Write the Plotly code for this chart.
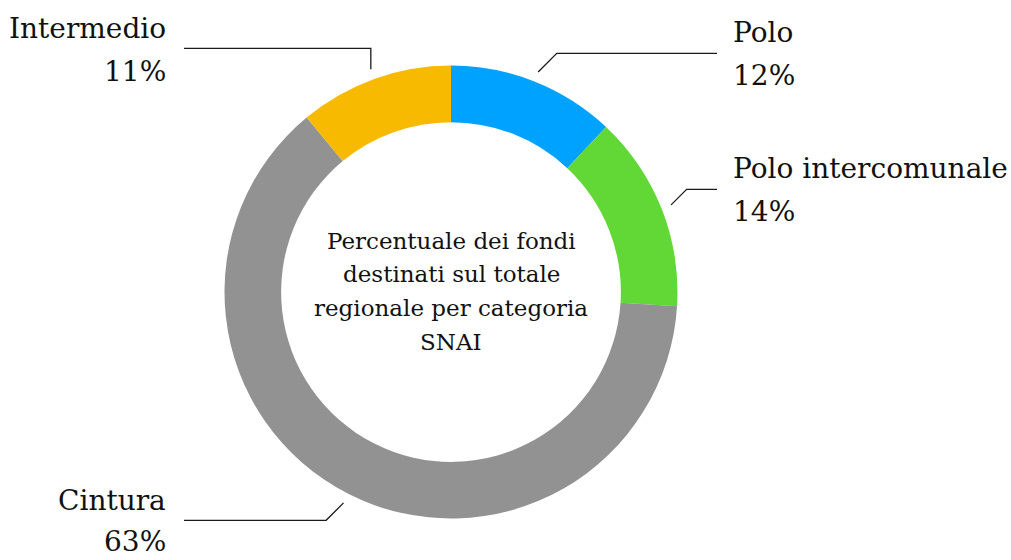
import math
import plotly.graph_objects as go

# ---- data ----
categories = ["Polo", "Polo intercomunale", "Cintura", "Intermedio"]
values = [12, 14, 63, 11]
colors = ["#00A2FF", "#61D836", "#929292", "#F8BA00"]
center_lines = ["Percentuale dei fondi", "destinati sul totale",
                "regionale per categoria", "SNAI"]

# ---- layout constants (pixels) ----
W, H = 1011, 560
CX, CY, R = 451, 292, 226.5
FONT = "DejaVu Serif"
LBL_SIZE = 28
CTR_SIZE = 23

# label placement: side, line y (px), name baseline, pct baseline, elbow style
label_side = ["right", "right", "left", "left"]
line_y = [53.3, 189.3, 520.3, 48.3]
name_base = [44, 180, 511.7, 40]
pct_base = [87, 222.7, 553, 83]
elbow = ["diag", "diag", "diag", "vert"]
RIGHT_LINE_END, RIGHT_TEXT_X = 717, 731
LEFT_LINE_END, LEFT_TEXT_X = 184, 168


def px(x):
    return x / W


def py(y):
    return 1 - y / H


fig = go.Figure(go.Pie(
    labels=categories, values=values, hole=0.75, sort=False,
    direction="clockwise", rotation=0,
    marker=dict(colors=colors, line=dict(width=0)),
    textinfo="none", hoverinfo="label+percent", showlegend=False,
    domain=dict(x=[px(CX - R), px(CX + R)], y=[py(CY + R), py(CY - R)]),
))

shapes = []
annotations = []
total = sum(values)
cum = 0
for i, v in enumerate(values):
    mid = (cum + v / 2) / total * 2 * math.pi
    cum += v
    rr = R * 1.045
    sx = CX + rr * math.sin(mid)
    sy = CY - rr * math.cos(mid)
    ly = line_y[i]
    dy = abs(sy - ly)
    if elbow[i] == "vert":
        ex = sx
    else:
        ex = sx + dy if label_side[i] == "right" else sx - dy
    endx = RIGHT_LINE_END if label_side[i] == "right" else LEFT_LINE_END
    path = f"M {px(sx)},{py(sy)} L {px(ex)},{py(ly)} L {px(endx)},{py(ly)}"
    shapes.append(dict(type="path", path=path, xref="paper", yref="paper",
                       line=dict(color="#1a1a1a", width=1.3)))
    tx = RIGHT_TEXT_X if label_side[i] == "right" else LEFT_TEXT_X
    xa = "left" if label_side[i] == "right" else "right"
    for txt, base in ((categories[i], name_base[i]),
                      (f"{round(v / total * 100)}%", pct_base[i])):
        annotations.append(dict(
            text=txt, x=px(tx), y=py(base + LBL_SIZE * 0.25), xref="paper", yref="paper",
            xanchor=xa, yanchor="bottom", showarrow=False,
            font=dict(family=FONT, size=LBL_SIZE, color="#111111")))

center_base = [250, 283, 317, 351]
for txt, base in zip(center_lines, center_base):
    annotations.append(dict(
        text=txt, x=px(CX), y=py(base + CTR_SIZE * 0.25), xref="paper", yref="paper",
        xanchor="center", yanchor="bottom", showarrow=False,
        font=dict(family=FONT, size=CTR_SIZE, color="#111111")))

fig.update_layout(
    width=W, height=H, margin=dict(l=0, r=0, t=0, b=0),
    paper_bgcolor="white", plot_bgcolor="white",
    shapes=shapes, annotations=annotations,
)

fig.write_html("out.html", config={"displayModeBar": False},
               post_script="document.body.style.margin='0';document.body.style.overflow='hidden';")
